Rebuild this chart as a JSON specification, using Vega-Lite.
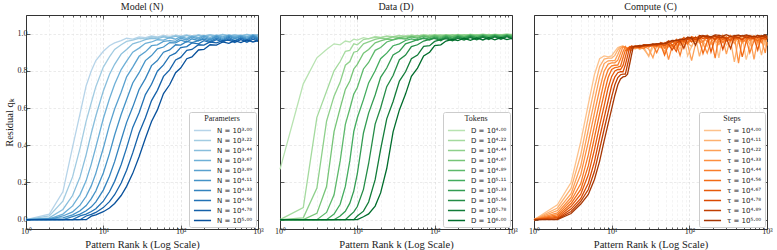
{
"$schema": "https://vega.github.io/schema/vega-lite/v6.json",
"padding": {"left": 4, "top": 1, "right": 0, "bottom": 0},
"background": "white",
"config": {
 "font": "Liberation Serif",
 "view": {"stroke": null},
 "title": {"font": "Liberation Serif", "fontSize": 10, "fontWeight": "normal", "color": "#222222", "offset": 3},
 "axis": {"domainColor": "#333333", "domainWidth": 1, "tickColor": "#333333", "tickWidth": 0.8, "gridDash": [2.5, 2], "gridWidth": 0.6, "gridColor": "#dddddd", "labelFont": "Liberation Serif", "labelFontSize": 8, "labelColor": "#222222", "titleFont": "Liberation Serif", "titleFontSize": 10.5, "titleFontWeight": "normal", "titleColor": "#222222"},
 "legend": {"orient": "bottom-right", "offset": 2, "padding": 3, "fillColor": "rgba(255,255,255,0.92)", "strokeColor": "#cccccc", "cornerRadius": 2, "titleFont": "Liberation Serif", "titleFontSize": 8, "titleFontWeight": "normal", "titleColor": "#222222", "titleAnchor": "middle", "titlePadding": 2, "labelFont": "DejaVu Sans", "labelFontSize": 7, "labelColor": "#222222", "labelOffset": 9, "symbolType": "M-1.9,0H1.9", "symbolSize": 81, "symbolStrokeWidth": 1.5, "symbolOffset": 5, "rowPadding": 1}
},
"datasets": {
"model": [
{"s":0,"k":1,"q":0},{"s":0,"k":2,"q":0.03},{"s":0,"k":3,"q":0.15},{"s":0,"k":4,"q":0.39},{"s":0,"k":5,"q":0.57},{"s":0,"k":6,"q":0.72},{"s":0,"k":7,"q":0.8},{"s":0,"k":8,"q":0.855},{"s":0,"k":10,"q":0.905},{"s":0,"k":12,"q":0.935},{"s":0,"k":14,"q":0.95},{"s":0,"k":17,"q":0.962},{"s":0,"k":20,"q":0.975},{"s":0,"k":24,"q":0.97},{"s":0,"k":29,"q":0.982},{"s":0,"k":35,"q":0.978},{"s":0,"k":42,"q":0.987},{"s":0,"k":50,"q":0.983},{"s":0,"k":60,"q":0.99},{"s":0,"k":72,"q":0.985},{"s":0,"k":86,"q":0.992},{"s":0,"k":100,"q":0.988},{"s":0,"k":120,"q":0.993},{"s":0,"k":140,"q":0.986},{"s":0,"k":170,"q":0.994},{"s":0,"k":200,"q":0.989},{"s":0,"k":240,"q":0.995},{"s":0,"k":290,"q":0.99},{"s":0,"k":350,"q":0.996},{"s":0,"k":420,"q":0.99},{"s":0,"k":500,"q":0.995},{"s":0,"k":600,"q":0.991},{"s":0,"k":720,"q":0.996},{"s":0,"k":860,"q":0.992},{"s":0,"k":1000,"q":0.995},
{"s":1,"k":1,"q":0},{"s":1,"k":2,"q":0.02},{"s":1,"k":3,"q":0.1},{"s":1,"k":4,"q":0.23},{"s":1,"k":5,"q":0.385},{"s":1,"k":6,"q":0.53},{"s":1,"k":7,"q":0.63},{"s":1,"k":8,"q":0.715},{"s":1,"k":10,"q":0.82},{"s":1,"k":12,"q":0.875},{"s":1,"k":14,"q":0.915},{"s":1,"k":17,"q":0.94},{"s":1,"k":20,"q":0.958},{"s":1,"k":24,"q":0.965},{"s":1,"k":29,"q":0.975},{"s":1,"k":35,"q":0.972},{"s":1,"k":42,"q":0.983},{"s":1,"k":50,"q":0.978},{"s":1,"k":60,"q":0.986},{"s":1,"k":72,"q":0.98},{"s":1,"k":86,"q":0.99},{"s":1,"k":100,"q":0.984},{"s":1,"k":120,"q":0.991},{"s":1,"k":140,"q":0.983},{"s":1,"k":170,"q":0.992},{"s":1,"k":200,"q":0.986},{"s":1,"k":240,"q":0.993},{"s":1,"k":290,"q":0.987},{"s":1,"k":350,"q":0.995},{"s":1,"k":420,"q":0.986},{"s":1,"k":500,"q":0.993},{"s":1,"k":600,"q":0.988},{"s":1,"k":720,"q":0.995},{"s":1,"k":860,"q":0.989},{"s":1,"k":1000,"q":0.994},
{"s":2,"k":1,"q":0},{"s":2,"k":2,"q":0.01},{"s":2,"k":3,"q":0.055},{"s":2,"k":4,"q":0.13},{"s":2,"k":5,"q":0.23},{"s":2,"k":6,"q":0.35},{"s":2,"k":7,"q":0.466},{"s":2,"k":8,"q":0.557},{"s":2,"k":10,"q":0.692},{"s":2,"k":12,"q":0.78},{"s":2,"k":14,"q":0.835},{"s":2,"k":17,"q":0.89},{"s":2,"k":20,"q":0.915},{"s":2,"k":24,"q":0.945},{"s":2,"k":29,"q":0.955},{"s":2,"k":35,"q":0.968},{"s":2,"k":42,"q":0.975},{"s":2,"k":50,"q":0.972},{"s":2,"k":60,"q":0.982},{"s":2,"k":72,"q":0.976},{"s":2,"k":86,"q":0.986},{"s":2,"k":100,"q":0.979},{"s":2,"k":120,"q":0.99},{"s":2,"k":140,"q":0.981},{"s":2,"k":170,"q":0.991},{"s":2,"k":200,"q":0.984},{"s":2,"k":240,"q":0.993},{"s":2,"k":290,"q":0.983},{"s":2,"k":350,"q":0.994},{"s":2,"k":420,"q":0.987},{"s":2,"k":500,"q":0.992},{"s":2,"k":600,"q":0.985},{"s":2,"k":720,"q":0.995},{"s":2,"k":860,"q":0.987},{"s":2,"k":1000,"q":0.993},
{"s":3,"k":1,"q":0},{"s":3,"k":2,"q":0.005},{"s":3,"k":3,"q":0.03},{"s":3,"k":4,"q":0.074},{"s":3,"k":5,"q":0.135},{"s":3,"k":6,"q":0.21},{"s":3,"k":7,"q":0.3},{"s":3,"k":8,"q":0.39},{"s":3,"k":10,"q":0.544},{"s":3,"k":12,"q":0.65},{"s":3,"k":14,"q":0.728},{"s":3,"k":17,"q":0.807},{"s":3,"k":20,"q":0.852},{"s":3,"k":24,"q":0.9},{"s":3,"k":29,"q":0.922},{"s":3,"k":35,"q":0.948},{"s":3,"k":42,"q":0.955},{"s":3,"k":50,"q":0.967},{"s":3,"k":60,"q":0.965},{"s":3,"k":72,"q":0.978},{"s":3,"k":86,"q":0.97},{"s":3,"k":100,"q":0.983},{"s":3,"k":120,"q":0.974},{"s":3,"k":140,"q":0.988},{"s":3,"k":170,"q":0.978},{"s":3,"k":200,"q":0.99},{"s":3,"k":240,"q":0.98},{"s":3,"k":290,"q":0.992},{"s":3,"k":350,"q":0.982},{"s":3,"k":420,"q":0.993},{"s":3,"k":500,"q":0.984},{"s":3,"k":600,"q":0.991},{"s":3,"k":720,"q":0.983},{"s":3,"k":860,"q":0.994},{"s":3,"k":1000,"q":0.986},
{"s":4,"k":1,"q":0},{"s":4,"k":2,"q":0},{"s":4,"k":3,"q":0.02},{"s":4,"k":4,"q":0.042},{"s":4,"k":5,"q":0.078},{"s":4,"k":6,"q":0.126},{"s":4,"k":7,"q":0.183},{"s":4,"k":8,"q":0.249},{"s":4,"k":10,"q":0.385},{"s":4,"k":12,"q":0.508},{"s":4,"k":14,"q":0.595},{"s":4,"k":17,"q":0.685},{"s":4,"k":20,"q":0.768},{"s":4,"k":24,"q":0.82},{"s":4,"k":29,"q":0.878},{"s":4,"k":35,"q":0.902},{"s":4,"k":42,"q":0.935},{"s":4,"k":50,"q":0.94},{"s":4,"k":60,"q":0.958},{"s":4,"k":72,"q":0.962},{"s":4,"k":86,"q":0.958},{"s":4,"k":100,"q":0.975},{"s":4,"k":120,"q":0.966},{"s":4,"k":140,"q":0.982},{"s":4,"k":170,"q":0.97},{"s":4,"k":200,"q":0.986},{"s":4,"k":240,"q":0.972},{"s":4,"k":290,"q":0.988},{"s":4,"k":350,"q":0.975},{"s":4,"k":420,"q":0.99},{"s":4,"k":500,"q":0.978},{"s":4,"k":600,"q":0.987},{"s":4,"k":720,"q":0.976},{"s":4,"k":860,"q":0.992},{"s":4,"k":1000,"q":0.98},
{"s":5,"k":1,"q":0},{"s":5,"k":3,"q":0.01},{"s":5,"k":4,"q":0.026},{"s":5,"k":5,"q":0.048},{"s":5,"k":6,"q":0.076},{"s":5,"k":7,"q":0.113},{"s":5,"k":8,"q":0.154},{"s":5,"k":10,"q":0.251},{"s":5,"k":12,"q":0.355},{"s":5,"k":14,"q":0.455},{"s":5,"k":17,"q":0.565},{"s":5,"k":20,"q":0.646},{"s":5,"k":24,"q":0.735},{"s":5,"k":29,"q":0.79},{"s":5,"k":35,"q":0.855},{"s":5,"k":42,"q":0.882},{"s":5,"k":50,"q":0.918},{"s":5,"k":60,"q":0.928},{"s":5,"k":72,"q":0.952},{"s":5,"k":86,"q":0.95},{"s":5,"k":100,"q":0.965},{"s":5,"k":120,"q":0.955},{"s":5,"k":140,"q":0.972},{"s":5,"k":170,"q":0.962},{"s":5,"k":200,"q":0.978},{"s":5,"k":240,"q":0.966},{"s":5,"k":290,"q":0.983},{"s":5,"k":350,"q":0.968},{"s":5,"k":420,"q":0.986},{"s":5,"k":500,"q":0.972},{"s":5,"k":600,"q":0.984},{"s":5,"k":720,"q":0.97},{"s":5,"k":860,"q":0.99},{"s":5,"k":1000,"q":0.976},
{"s":6,"k":1,"q":0},{"s":6,"k":3,"q":0},{"s":6,"k":4,"q":0.017},{"s":6,"k":5,"q":0.03},{"s":6,"k":6,"q":0.048},{"s":6,"k":7,"q":0.069},{"s":6,"k":8,"q":0.096},{"s":6,"k":10,"q":0.159},{"s":6,"k":12,"q":0.233},{"s":6,"k":14,"q":0.312},{"s":6,"k":17,"q":0.428},{"s":6,"k":20,"q":0.523},{"s":6,"k":24,"q":0.605},{"s":6,"k":29,"q":0.7},{"s":6,"k":35,"q":0.758},{"s":6,"k":42,"q":0.828},{"s":6,"k":50,"q":0.855},{"s":6,"k":60,"q":0.9},{"s":6,"k":72,"q":0.912},{"s":6,"k":86,"q":0.94},{"s":6,"k":100,"q":0.938},{"s":6,"k":120,"q":0.958},{"s":6,"k":140,"q":0.952},{"s":6,"k":170,"q":0.962},{"s":6,"k":200,"q":0.97},{"s":6,"k":240,"q":0.958},{"s":6,"k":290,"q":0.976},{"s":6,"k":350,"q":0.962},{"s":6,"k":420,"q":0.98},{"s":6,"k":500,"q":0.963},{"s":6,"k":600,"q":0.978},{"s":6,"k":720,"q":0.965},{"s":6,"k":860,"q":0.985},{"s":6,"k":1000,"q":0.97},
{"s":7,"k":1,"q":0},{"s":7,"k":4,"q":0},{"s":7,"k":5,"q":0.02},{"s":7,"k":6,"q":0.03},{"s":7,"k":7,"q":0.044},{"s":7,"k":8,"q":0.059},{"s":7,"k":10,"q":0.1},{"s":7,"k":12,"q":0.15},{"s":7,"k":14,"q":0.206},{"s":7,"k":17,"q":0.295},{"s":7,"k":20,"q":0.386},{"s":7,"k":24,"q":0.496},{"s":7,"k":29,"q":0.575},{"s":7,"k":35,"q":0.672},{"s":7,"k":42,"q":0.728},{"s":7,"k":50,"q":0.798},{"s":7,"k":60,"q":0.832},{"s":7,"k":72,"q":0.88},{"s":7,"k":86,"q":0.895},{"s":7,"k":100,"q":0.925},{"s":7,"k":120,"q":0.93},{"s":7,"k":140,"q":0.95},{"s":7,"k":170,"q":0.945},{"s":7,"k":200,"q":0.962},{"s":7,"k":240,"q":0.952},{"s":7,"k":290,"q":0.968},{"s":7,"k":350,"q":0.955},{"s":7,"k":420,"q":0.972},{"s":7,"k":500,"q":0.958},{"s":7,"k":600,"q":0.975},{"s":7,"k":720,"q":0.96},{"s":7,"k":860,"q":0.978},{"s":7,"k":1000,"q":0.965},
{"s":8,"k":1,"q":0},{"s":8,"k":5,"q":0},{"s":8,"k":6,"q":0.02},{"s":8,"k":7,"q":0.029},{"s":8,"k":8,"q":0.039},{"s":8,"k":10,"q":0.065},{"s":8,"k":12,"q":0.097},{"s":8,"k":14,"q":0.134},{"s":8,"k":17,"q":0.197},{"s":8,"k":20,"q":0.266},{"s":8,"k":24,"q":0.359},{"s":8,"k":29,"q":0.466},{"s":8,"k":35,"q":0.548},{"s":8,"k":42,"q":0.64},{"s":8,"k":50,"q":0.695},{"s":8,"k":60,"q":0.77},{"s":8,"k":72,"q":0.805},{"s":8,"k":86,"q":0.858},{"s":8,"k":100,"q":0.872},{"s":8,"k":120,"q":0.91},{"s":8,"k":140,"q":0.915},{"s":8,"k":170,"q":0.94},{"s":8,"k":200,"q":0.938},{"s":8,"k":240,"q":0.955},{"s":8,"k":290,"q":0.95},{"s":8,"k":350,"q":0.962},{"s":8,"k":420,"q":0.965},{"s":8,"k":500,"q":0.952},{"s":8,"k":600,"q":0.968},{"s":8,"k":720,"q":0.954},{"s":8,"k":860,"q":0.97},{"s":8,"k":1000,"q":0.958},
{"s":9,"k":1,"q":0},{"s":9,"k":6,"q":0},{"s":9,"k":7,"q":0.019},{"s":9,"k":8,"q":0.026},{"s":9,"k":10,"q":0.043},{"s":9,"k":12,"q":0.063},{"s":9,"k":14,"q":0.087},{"s":9,"k":17,"q":0.13},{"s":9,"k":20,"q":0.179},{"s":9,"k":24,"q":0.249},{"s":9,"k":29,"q":0.338},{"s":9,"k":35,"q":0.438},{"s":9,"k":42,"q":0.528},{"s":9,"k":50,"q":0.59},{"s":9,"k":60,"q":0.678},{"s":9,"k":72,"q":0.725},{"s":9,"k":86,"q":0.79},{"s":9,"k":100,"q":0.815},{"s":9,"k":120,"q":0.865},{"s":9,"k":140,"q":0.875},{"s":9,"k":170,"q":0.912},{"s":9,"k":200,"q":0.915},{"s":9,"k":240,"q":0.94},{"s":9,"k":290,"q":0.938},{"s":9,"k":350,"q":0.955},{"s":9,"k":420,"q":0.948},{"s":9,"k":500,"q":0.962},{"s":9,"k":600,"q":0.952},{"s":9,"k":720,"q":0.966},{"s":9,"k":860,"q":0.955},{"s":9,"k":1000,"q":0.962}
],
"data": [
{"s":0,"k":1,"q":0.27},{"s":0,"k":2,"q":0.73},{"s":0,"k":3,"q":0.87},{"s":0,"k":4,"q":0.915},{"s":0,"k":5,"q":0.945},{"s":0,"k":6,"q":0.94},{"s":0,"k":7,"q":0.96},{"s":0,"k":8,"q":0.955},{"s":0,"k":9,"q":0.97},{"s":0,"k":10,"q":0.965},{"s":0,"k":12,"q":0.978},{"s":0,"k":14,"q":0.972},{"s":0,"k":17,"q":0.985},{"s":0,"k":20,"q":0.98},{"s":0,"k":24,"q":0.988},{"s":0,"k":29,"q":0.984},{"s":0,"k":35,"q":0.99},{"s":0,"k":42,"q":0.986},{"s":0,"k":50,"q":0.992},{"s":0,"k":60,"q":0.988},{"s":0,"k":72,"q":0.994},{"s":0,"k":86,"q":0.99},{"s":0,"k":100,"q":0.995},{"s":0,"k":120,"q":0.99},{"s":0,"k":140,"q":0.995},{"s":0,"k":170,"q":0.991},{"s":0,"k":200,"q":0.996},{"s":0,"k":240,"q":0.992},{"s":0,"k":290,"q":0.996},{"s":0,"k":350,"q":0.993},{"s":0,"k":420,"q":0.997},{"s":0,"k":500,"q":0.993},{"s":0,"k":600,"q":0.996},{"s":0,"k":720,"q":0.994},{"s":0,"k":860,"q":0.997},{"s":0,"k":1000,"q":0.995},
{"s":1,"k":1,"q":0},{"s":1,"k":2,"q":0.065},{"s":1,"k":3,"q":0.55},{"s":1,"k":4,"q":0.69},{"s":1,"k":5,"q":0.8},{"s":1,"k":6,"q":0.85},{"s":1,"k":7,"q":0.905},{"s":1,"k":8,"q":0.91},{"s":1,"k":9,"q":0.945},{"s":1,"k":10,"q":0.94},{"s":1,"k":12,"q":0.968},{"s":1,"k":14,"q":0.973},{"s":1,"k":17,"q":0.98},{"s":1,"k":20,"q":0.978},{"s":1,"k":24,"q":0.985},{"s":1,"k":29,"q":0.982},{"s":1,"k":35,"q":0.989},{"s":1,"k":42,"q":0.984},{"s":1,"k":50,"q":0.991},{"s":1,"k":60,"q":0.986},{"s":1,"k":72,"q":0.993},{"s":1,"k":86,"q":0.988},{"s":1,"k":100,"q":0.994},{"s":1,"k":120,"q":0.989},{"s":1,"k":140,"q":0.995},{"s":1,"k":170,"q":0.99},{"s":1,"k":200,"q":0.995},{"s":1,"k":240,"q":0.99},{"s":1,"k":290,"q":0.996},{"s":1,"k":350,"q":0.991},{"s":1,"k":420,"q":0.996},{"s":1,"k":500,"q":0.992},{"s":1,"k":600,"q":0.996},{"s":1,"k":720,"q":0.993},{"s":1,"k":860,"q":0.997},{"s":1,"k":1000,"q":0.994},
{"s":2,"k":1,"q":0},{"s":2,"k":2,"q":0.01},{"s":2,"k":3,"q":0.17},{"s":2,"k":4,"q":0.53},{"s":2,"k":5,"q":0.664},{"s":2,"k":6,"q":0.74},{"s":2,"k":7,"q":0.83},{"s":2,"k":8,"q":0.85},{"s":2,"k":9,"q":0.9},{"s":2,"k":10,"q":0.905},{"s":2,"k":12,"q":0.945},{"s":2,"k":14,"q":0.956},{"s":2,"k":17,"q":0.969},{"s":2,"k":20,"q":0.976},{"s":2,"k":24,"q":0.972},{"s":2,"k":29,"q":0.983},{"s":2,"k":35,"q":0.978},{"s":2,"k":42,"q":0.986},{"s":2,"k":50,"q":0.981},{"s":2,"k":60,"q":0.99},{"s":2,"k":72,"q":0.984},{"s":2,"k":86,"q":0.992},{"s":2,"k":100,"q":0.986},{"s":2,"k":120,"q":0.993},{"s":2,"k":140,"q":0.987},{"s":2,"k":170,"q":0.994},{"s":2,"k":200,"q":0.988},{"s":2,"k":240,"q":0.995},{"s":2,"k":290,"q":0.989},{"s":2,"k":350,"q":0.995},{"s":2,"k":420,"q":0.99},{"s":2,"k":500,"q":0.996},{"s":2,"k":600,"q":0.991},{"s":2,"k":720,"q":0.995},{"s":2,"k":860,"q":0.992},{"s":2,"k":1000,"q":0.996},
{"s":3,"k":1,"q":0},{"s":3,"k":2,"q":0},{"s":3,"k":3,"q":0.034},{"s":3,"k":4,"q":0.178},{"s":3,"k":5,"q":0.473},{"s":3,"k":6,"q":0.6},{"s":3,"k":7,"q":0.7},{"s":3,"k":8,"q":0.745},{"s":3,"k":9,"q":0.81},{"s":3,"k":10,"q":0.835},{"s":3,"k":12,"q":0.895},{"s":3,"k":14,"q":0.915},{"s":3,"k":17,"q":0.95},{"s":3,"k":20,"q":0.961},{"s":3,"k":24,"q":0.971},{"s":3,"k":29,"q":0.968},{"s":3,"k":35,"q":0.98},{"s":3,"k":42,"q":0.975},{"s":3,"k":50,"q":0.986},{"s":3,"k":60,"q":0.98},{"s":3,"k":72,"q":0.99},{"s":3,"k":86,"q":0.983},{"s":3,"k":100,"q":0.991},{"s":3,"k":120,"q":0.985},{"s":3,"k":140,"q":0.992},{"s":3,"k":170,"q":0.986},{"s":3,"k":200,"q":0.993},{"s":3,"k":240,"q":0.987},{"s":3,"k":290,"q":0.994},{"s":3,"k":350,"q":0.988},{"s":3,"k":420,"q":0.994},{"s":3,"k":500,"q":0.989},{"s":3,"k":600,"q":0.995},{"s":3,"k":720,"q":0.99},{"s":3,"k":860,"q":0.995},{"s":3,"k":1000,"q":0.991},
{"s":4,"k":1,"q":0},{"s":4,"k":3,"q":0},{"s":4,"k":4,"q":0.039},{"s":4,"k":5,"q":0.134},{"s":4,"k":6,"q":0.316},{"s":4,"k":7,"q":0.512},{"s":4,"k":8,"q":0.596},{"s":4,"k":9,"q":0.675},{"s":4,"k":10,"q":0.71},{"s":4,"k":12,"q":0.81},{"s":4,"k":14,"q":0.845},{"s":4,"k":17,"q":0.91},{"s":4,"k":20,"q":0.925},{"s":4,"k":24,"q":0.955},{"s":4,"k":29,"q":0.966},{"s":4,"k":35,"q":0.975},{"s":4,"k":42,"q":0.97},{"s":4,"k":50,"q":0.982},{"s":4,"k":60,"q":0.975},{"s":4,"k":72,"q":0.986},{"s":4,"k":86,"q":0.978},{"s":4,"k":100,"q":0.988},{"s":4,"k":120,"q":0.98},{"s":4,"k":140,"q":0.99},{"s":4,"k":170,"q":0.982},{"s":4,"k":200,"q":0.991},{"s":4,"k":240,"q":0.983},{"s":4,"k":290,"q":0.992},{"s":4,"k":350,"q":0.985},{"s":4,"k":420,"q":0.993},{"s":4,"k":500,"q":0.986},{"s":4,"k":600,"q":0.993},{"s":4,"k":720,"q":0.987},{"s":4,"k":860,"q":0.994},{"s":4,"k":1000,"q":0.988},
{"s":5,"k":1,"q":0},{"s":5,"k":4,"q":0},{"s":5,"k":5,"q":0.03},{"s":5,"k":6,"q":0.083},{"s":5,"k":7,"q":0.179},{"s":5,"k":8,"q":0.317},{"s":5,"k":9,"q":0.474},{"s":5,"k":10,"q":0.548},{"s":5,"k":12,"q":0.645},{"s":5,"k":14,"q":0.735},{"s":5,"k":17,"q":0.8},{"s":5,"k":20,"q":0.865},{"s":5,"k":24,"q":0.895},{"s":5,"k":29,"q":0.935},{"s":5,"k":35,"q":0.945},{"s":5,"k":42,"q":0.963},{"s":5,"k":50,"q":0.972},{"s":5,"k":60,"q":0.965},{"s":5,"k":72,"q":0.978},{"s":5,"k":86,"q":0.97},{"s":5,"k":100,"q":0.982},{"s":5,"k":120,"q":0.974},{"s":5,"k":140,"q":0.986},{"s":5,"k":170,"q":0.976},{"s":5,"k":200,"q":0.988},{"s":5,"k":240,"q":0.978},{"s":5,"k":290,"q":0.99},{"s":5,"k":350,"q":0.98},{"s":5,"k":420,"q":0.99},{"s":5,"k":500,"q":0.981},{"s":5,"k":600,"q":0.991},{"s":5,"k":720,"q":0.983},{"s":5,"k":860,"q":0.992},{"s":5,"k":1000,"q":0.984},
{"s":6,"k":1,"q":0},{"s":6,"k":5,"q":0},{"s":6,"k":6,"q":0.02},{"s":6,"k":7,"q":0.045},{"s":6,"k":8,"q":0.089},{"s":6,"k":9,"q":0.155},{"s":6,"k":10,"q":0.247},{"s":6,"k":12,"q":0.466},{"s":6,"k":14,"q":0.573},{"s":6,"k":17,"q":0.67},{"s":6,"k":20,"q":0.765},{"s":6,"k":24,"q":0.815},{"s":6,"k":29,"q":0.885},{"s":6,"k":35,"q":0.905},{"s":6,"k":42,"q":0.945},{"s":6,"k":50,"q":0.955},{"s":6,"k":60,"q":0.967},{"s":6,"k":72,"q":0.974},{"s":6,"k":86,"q":0.965},{"s":6,"k":100,"q":0.978},{"s":6,"k":120,"q":0.968},{"s":6,"k":140,"q":0.982},{"s":6,"k":170,"q":0.972},{"s":6,"k":200,"q":0.985},{"s":6,"k":240,"q":0.974},{"s":6,"k":290,"q":0.987},{"s":6,"k":350,"q":0.976},{"s":6,"k":420,"q":0.988},{"s":6,"k":500,"q":0.977},{"s":6,"k":600,"q":0.989},{"s":6,"k":720,"q":0.978},{"s":6,"k":860,"q":0.99},{"s":6,"k":1000,"q":0.98},
{"s":7,"k":1,"q":0},{"s":7,"k":7,"q":0},{"s":7,"k":8,"q":0.023},{"s":7,"k":9,"q":0.042},{"s":7,"k":10,"q":0.071},{"s":7,"k":12,"q":0.163},{"s":7,"k":14,"q":0.302},{"s":7,"k":17,"q":0.514},{"s":7,"k":20,"q":0.6},{"s":7,"k":24,"q":0.715},{"s":7,"k":29,"q":0.775},{"s":7,"k":35,"q":0.86},{"s":7,"k":42,"q":0.885},{"s":7,"k":50,"q":0.93},{"s":7,"k":60,"q":0.94},{"s":7,"k":72,"q":0.96},{"s":7,"k":86,"q":0.969},{"s":7,"k":100,"q":0.974},{"s":7,"k":120,"q":0.962},{"s":7,"k":140,"q":0.978},{"s":7,"k":170,"q":0.966},{"s":7,"k":200,"q":0.982},{"s":7,"k":240,"q":0.968},{"s":7,"k":290,"q":0.984},{"s":7,"k":350,"q":0.97},{"s":7,"k":420,"q":0.986},{"s":7,"k":500,"q":0.972},{"s":7,"k":600,"q":0.986},{"s":7,"k":720,"q":0.974},{"s":7,"k":860,"q":0.988},{"s":7,"k":1000,"q":0.975},
{"s":8,"k":1,"q":0},{"s":8,"k":9,"q":0},{"s":8,"k":10,"q":0.02},{"s":8,"k":12,"q":0.046},{"s":8,"k":14,"q":0.095},{"s":8,"k":17,"q":0.215},{"s":8,"k":20,"q":0.378},{"s":8,"k":24,"q":0.542},{"s":8,"k":29,"q":0.635},{"s":8,"k":35,"q":0.745},{"s":8,"k":42,"q":0.795},{"s":8,"k":50,"q":0.865},{"s":8,"k":60,"q":0.885},{"s":8,"k":72,"q":0.932},{"s":8,"k":86,"q":0.935},{"s":8,"k":100,"q":0.958},{"s":8,"k":120,"q":0.968},{"s":8,"k":140,"q":0.973},{"s":8,"k":170,"q":0.962},{"s":8,"k":200,"q":0.976},{"s":8,"k":240,"q":0.965},{"s":8,"k":290,"q":0.979},{"s":8,"k":350,"q":0.967},{"s":8,"k":420,"q":0.981},{"s":8,"k":500,"q":0.968},{"s":8,"k":600,"q":0.982},{"s":8,"k":720,"q":0.97},{"s":8,"k":860,"q":0.984},{"s":8,"k":1000,"q":0.972},
{"s":9,"k":1,"q":0},{"s":9,"k":10,"q":0},{"s":9,"k":12,"q":0.016},{"s":9,"k":14,"q":0.031},{"s":9,"k":17,"q":0.073},{"s":9,"k":20,"q":0.144},{"s":9,"k":24,"q":0.275},{"s":9,"k":29,"q":0.472},{"s":9,"k":35,"q":0.59},{"s":9,"k":42,"q":0.675},{"s":9,"k":50,"q":0.77},{"s":9,"k":60,"q":0.815},{"s":9,"k":72,"q":0.88},{"s":9,"k":86,"q":0.9},{"s":9,"k":100,"q":0.935},{"s":9,"k":120,"q":0.94},{"s":9,"k":140,"q":0.96},{"s":9,"k":170,"q":0.969},{"s":9,"k":200,"q":0.962},{"s":9,"k":240,"q":0.975},{"s":9,"k":290,"q":0.964},{"s":9,"k":350,"q":0.977},{"s":9,"k":420,"q":0.966},{"s":9,"k":500,"q":0.978},{"s":9,"k":600,"q":0.967},{"s":9,"k":720,"q":0.979},{"s":9,"k":860,"q":0.968},{"s":9,"k":1000,"q":0.975}
],
"compute": [
{"s":0,"k":1,"q":0},{"s":0,"k":2,"q":0.08},{"s":0,"k":3,"q":0.2},{"s":0,"k":4,"q":0.42},{"s":0,"k":5,"q":0.62},{"s":0,"k":6,"q":0.78},{"s":0,"k":7,"q":0.865},{"s":0,"k":8,"q":0.88},{"s":0,"k":9,"q":0.875},{"s":0,"k":10,"q":0.88},{"s":0,"k":11,"q":0.905},{"s":0,"k":12,"q":0.925},{"s":0,"k":13,"q":0.93},{"s":0,"k":14,"q":0.932},{"s":0,"k":16,"q":0.92},{"s":0,"k":18,"q":0.918},{"s":0,"k":20,"q":0.932},{"s":0,"k":23,"q":0.915},{"s":0,"k":26,"q":0.927},{"s":0,"k":30,"q":0.877},{"s":0,"k":34,"q":0.925},{"s":0,"k":38,"q":0.94},{"s":0,"k":43,"q":0.924},{"s":0,"k":48,"q":0.922},{"s":0,"k":54,"q":0.953},{"s":0,"k":60,"q":0.919},{"s":0,"k":68,"q":0.95},{"s":0,"k":76,"q":0.915},{"s":0,"k":85,"q":0.978},{"s":0,"k":95,"q":0.88},{"s":0,"k":107,"q":0.931},{"s":0,"k":120,"q":0.973},{"s":0,"k":135,"q":0.948},{"s":0,"k":150,"q":0.957},{"s":0,"k":170,"q":0.931},{"s":0,"k":190,"q":0.983},{"s":0,"k":215,"q":0.97},{"s":0,"k":240,"q":0.87},{"s":0,"k":270,"q":0.99},{"s":0,"k":300,"q":0.937},{"s":0,"k":340,"q":0.964},{"s":0,"k":380,"q":0.977},{"s":0,"k":430,"q":0.95},{"s":0,"k":480,"q":0.983},{"s":0,"k":540,"q":0.86},{"s":0,"k":600,"q":0.931},{"s":0,"k":680,"q":0.97},{"s":0,"k":760,"q":0.944},{"s":0,"k":850,"q":0.977},{"s":0,"k":950,"q":0.937},{"s":0,"k":1000,"q":0.99},
{"s":1,"k":1,"q":0},{"s":1,"k":2,"q":0.063},{"s":1,"k":3,"q":0.168},{"s":1,"k":4,"q":0.349},{"s":1,"k":5,"q":0.551},{"s":1,"k":6,"q":0.707},{"s":1,"k":7,"q":0.823},{"s":1,"k":8,"q":0.863},{"s":1,"k":9,"q":0.868},{"s":1,"k":10,"q":0.868},{"s":1,"k":11,"q":0.883},{"s":1,"k":12,"q":0.912},{"s":1,"k":13,"q":0.93},{"s":1,"k":14,"q":0.933},{"s":1,"k":16,"q":0.918},{"s":1,"k":18,"q":0.932},{"s":1,"k":20,"q":0.917},{"s":1,"k":23,"q":0.931},{"s":1,"k":26,"q":0.916},{"s":1,"k":30,"q":0.882},{"s":1,"k":34,"q":0.942},{"s":1,"k":38,"q":0.926},{"s":1,"k":43,"q":0.941},{"s":1,"k":48,"q":0.901},{"s":1,"k":54,"q":0.96},{"s":1,"k":60,"q":0.941},{"s":1,"k":68,"q":0.922},{"s":1,"k":76,"q":0.962},{"s":1,"k":85,"q":0.942},{"s":1,"k":95,"q":0.951},{"s":1,"k":107,"q":0.93},{"s":1,"k":120,"q":0.98},{"s":1,"k":135,"q":0.878},{"s":1,"k":150,"q":0.948},{"s":1,"k":170,"q":0.99},{"s":1,"k":190,"q":0.942},{"s":1,"k":215,"q":0.966},{"s":1,"k":240,"q":0.978},{"s":1,"k":270,"q":0.954},{"s":1,"k":300,"q":0.984},{"s":1,"k":340,"q":0.96},{"s":1,"k":380,"q":0.848},{"s":1,"k":430,"q":0.972},{"s":1,"k":480,"q":0.948},{"s":1,"k":540,"q":0.978},{"s":1,"k":600,"q":0.942},{"s":1,"k":680,"q":0.99},{"s":1,"k":760,"q":0.972},{"s":1,"k":850,"q":0.884},{"s":1,"k":950,"q":0.984},{"s":1,"k":1000,"q":0.936},
{"s":2,"k":1,"q":0},{"s":2,"k":2,"q":0.049},{"s":2,"k":3,"q":0.14},{"s":2,"k":4,"q":0.29},{"s":2,"k":5,"q":0.483},{"s":2,"k":6,"q":0.639},{"s":2,"k":7,"q":0.769},{"s":2,"k":8,"q":0.839},{"s":2,"k":9,"q":0.854},{"s":2,"k":10,"q":0.855},{"s":2,"k":11,"q":0.855},{"s":2,"k":12,"q":0.888},{"s":2,"k":13,"q":0.921},{"s":2,"k":14,"q":0.93},{"s":2,"k":16,"q":0.908},{"s":2,"k":18,"q":0.919},{"s":2,"k":20,"q":0.932},{"s":2,"k":23,"q":0.918},{"s":2,"k":26,"q":0.932},{"s":2,"k":30,"q":0.918},{"s":2,"k":34,"q":0.87},{"s":2,"k":38,"q":0.936},{"s":2,"k":43,"q":0.928},{"s":2,"k":48,"q":0.944},{"s":2,"k":54,"q":0.928},{"s":2,"k":60,"q":0.938},{"s":2,"k":68,"q":0.921},{"s":2,"k":76,"q":0.969},{"s":2,"k":85,"q":0.962},{"s":2,"k":95,"q":0.943},{"s":2,"k":107,"q":0.855},{"s":2,"k":120,"q":0.943},{"s":2,"k":135,"q":0.966},{"s":2,"k":150,"q":0.979},{"s":2,"k":170,"q":0.958},{"s":2,"k":190,"q":0.985},{"s":2,"k":215,"q":0.963},{"s":2,"k":240,"q":0.941},{"s":2,"k":270,"q":0.974},{"s":2,"k":300,"q":0.89},{"s":2,"k":340,"q":0.979},{"s":2,"k":380,"q":0.947},{"s":2,"k":430,"q":0.99},{"s":2,"k":480,"q":0.974},{"s":2,"k":540,"q":0.952},{"s":2,"k":600,"q":0.985},{"s":2,"k":680,"q":0.862},{"s":2,"k":760,"q":0.968},{"s":2,"k":850,"q":0.99},{"s":2,"k":950,"q":0.958},{"s":2,"k":1000,"q":0.979},
{"s":3,"k":1,"q":0},{"s":3,"k":2,"q":0.037},{"s":3,"k":3,"q":0.119},{"s":3,"k":4,"q":0.242},{"s":3,"k":5,"q":0.417},{"s":3,"k":6,"q":0.573},{"s":3,"k":7,"q":0.701},{"s":3,"k":8,"q":0.798},{"s":3,"k":9,"q":0.836},{"s":3,"k":10,"q":0.843},{"s":3,"k":11,"q":0.843},{"s":3,"k":12,"q":0.857},{"s":3,"k":13,"q":0.895},{"s":3,"k":14,"q":0.93},{"s":3,"k":16,"q":0.923},{"s":3,"k":18,"q":0.91},{"s":3,"k":20,"q":0.935},{"s":3,"k":23,"q":0.927},{"s":3,"k":26,"q":0.921},{"s":3,"k":30,"q":0.937},{"s":3,"k":34,"q":0.931},{"s":3,"k":38,"q":0.935},{"s":3,"k":43,"q":0.928},{"s":3,"k":48,"q":0.95},{"s":3,"k":54,"q":0.86},{"s":3,"k":60,"q":0.931},{"s":3,"k":68,"q":0.97},{"s":3,"k":76,"q":0.936},{"s":3,"k":85,"q":0.959},{"s":3,"k":95,"q":0.971},{"s":3,"k":107,"q":0.955},{"s":3,"k":120,"q":0.981},{"s":3,"k":135,"q":0.964},{"s":3,"k":150,"q":0.947},{"s":3,"k":170,"q":0.895},{"s":3,"k":190,"q":0.956},{"s":3,"k":215,"q":0.98},{"s":3,"k":240,"q":0.952},{"s":3,"k":270,"q":0.99},{"s":3,"k":300,"q":0.976},{"s":3,"k":340,"q":0.956},{"s":3,"k":380,"q":0.985},{"s":3,"k":430,"q":0.841},{"s":3,"k":480,"q":0.971},{"s":3,"k":540,"q":0.99},{"s":3,"k":600,"q":0.961},{"s":3,"k":680,"q":0.98},{"s":3,"k":760,"q":0.952},{"s":3,"k":850,"q":0.966},{"s":3,"k":950,"q":0.896},{"s":3,"k":1000,"q":0.956},
{"s":4,"k":1,"q":0},{"s":4,"k":2,"q":0.027},{"s":4,"k":3,"q":0.102},{"s":4,"k":4,"q":0.194},{"s":4,"k":5,"q":0.348},{"s":4,"k":6,"q":0.506},{"s":4,"k":7,"q":0.633},{"s":4,"k":8,"q":0.744},{"s":4,"k":9,"q":0.806},{"s":4,"k":10,"q":0.827},{"s":4,"k":11,"q":0.83},{"s":4,"k":12,"q":0.831},{"s":4,"k":13,"q":0.863},{"s":4,"k":14,"q":0.903},{"s":4,"k":15,"q":0.93},{"s":4,"k":16,"q":0.913},{"s":4,"k":18,"q":0.928},{"s":4,"k":20,"q":0.922},{"s":4,"k":23,"q":0.926},{"s":4,"k":26,"q":0.921},{"s":4,"k":30,"q":0.94},{"s":4,"k":34,"q":0.939},{"s":4,"k":38,"q":0.898},{"s":4,"k":43,"q":0.95},{"s":4,"k":48,"q":0.921},{"s":4,"k":54,"q":0.943},{"s":4,"k":60,"q":0.957},{"s":4,"k":68,"q":0.945},{"s":4,"k":76,"q":0.883},{"s":4,"k":85,"q":0.957},{"s":4,"k":95,"q":0.943},{"s":4,"k":107,"q":0.971},{"s":4,"k":120,"q":0.957},{"s":4,"k":135,"q":0.98},{"s":4,"k":150,"q":0.956},{"s":4,"k":170,"q":0.99},{"s":4,"k":190,"q":0.977},{"s":4,"k":215,"q":0.868},{"s":4,"k":240,"q":0.986},{"s":4,"k":270,"q":0.952},{"s":4,"k":300,"q":0.973},{"s":4,"k":340,"q":0.99},{"s":4,"k":380,"q":0.965},{"s":4,"k":430,"q":0.982},{"s":4,"k":480,"q":0.956},{"s":4,"k":540,"q":0.969},{"s":4,"k":600,"q":0.897},{"s":4,"k":680,"q":0.961},{"s":4,"k":760,"q":0.977},{"s":4,"k":850,"q":0.952},{"s":4,"k":950,"q":0.99},{"s":4,"k":1000,"q":0.973},
{"s":5,"k":1,"q":0},{"s":5,"k":2,"q":0.019},{"s":5,"k":3,"q":0.087},{"s":5,"k":4,"q":0.163},{"s":5,"k":5,"q":0.289},{"s":5,"k":6,"q":0.441},{"s":5,"k":7,"q":0.57},{"s":5,"k":8,"q":0.677},{"s":5,"k":9,"q":0.764},{"s":5,"k":10,"q":0.807},{"s":5,"k":11,"q":0.817},{"s":5,"k":12,"q":0.82},{"s":5,"k":13,"q":0.825},{"s":5,"k":14,"q":0.87},{"s":5,"k":15,"q":0.91},{"s":5,"k":16,"q":0.914},{"s":5,"k":18,"q":0.93},{"s":5,"k":20,"q":0.93},{"s":5,"k":23,"q":0.924},{"s":5,"k":26,"q":0.94},{"s":5,"k":30,"q":0.928},{"s":5,"k":34,"q":0.938},{"s":5,"k":38,"q":0.943},{"s":5,"k":43,"q":0.939},{"s":5,"k":48,"q":0.884},{"s":5,"k":54,"q":0.942},{"s":5,"k":60,"q":0.933},{"s":5,"k":68,"q":0.959},{"s":5,"k":76,"q":0.949},{"s":5,"k":85,"q":0.971},{"s":5,"k":95,"q":0.952},{"s":5,"k":107,"q":0.984},{"s":5,"k":120,"q":0.975},{"s":5,"k":135,"q":0.963},{"s":5,"k":150,"q":0.893},{"s":5,"k":170,"q":0.958},{"s":5,"k":190,"q":0.976},{"s":5,"k":215,"q":0.99},{"s":5,"k":240,"q":0.968},{"s":5,"k":270,"q":0.983},{"s":5,"k":300,"q":0.961},{"s":5,"k":340,"q":0.972},{"s":5,"k":380,"q":0.986},{"s":5,"k":430,"q":0.965},{"s":5,"k":480,"q":0.875},{"s":5,"k":540,"q":0.958},{"s":5,"k":600,"q":0.99},{"s":5,"k":680,"q":0.976},{"s":5,"k":760,"q":0.961},{"s":5,"k":850,"q":0.983},{"s":5,"k":950,"q":0.968},{"s":5,"k":1000,"q":0.972},
{"s":6,"k":1,"q":0},{"s":6,"k":2,"q":0.012},{"s":6,"k":3,"q":0.072},{"s":6,"k":4,"q":0.137},{"s":6,"k":5,"q":0.241},{"s":6,"k":6,"q":0.377},{"s":6,"k":7,"q":0.505},{"s":6,"k":8,"q":0.612},{"s":6,"k":9,"q":0.708},{"s":6,"k":10,"q":0.77},{"s":6,"k":11,"q":0.799},{"s":6,"k":12,"q":0.807},{"s":6,"k":13,"q":0.807},{"s":6,"k":14,"q":0.829},{"s":6,"k":15,"q":0.875},{"s":6,"k":16,"q":0.918},{"s":6,"k":17,"q":0.93},{"s":6,"k":18,"q":0.92},{"s":6,"k":20,"q":0.929},{"s":6,"k":23,"q":0.934},{"s":6,"k":26,"q":0.931},{"s":6,"k":30,"q":0.94},{"s":6,"k":34,"q":0.937},{"s":6,"k":38,"q":0.933},{"s":6,"k":43,"q":0.945},{"s":6,"k":48,"q":0.934},{"s":6,"k":54,"q":0.954},{"s":6,"k":60,"q":0.941},{"s":6,"k":68,"q":0.904},{"s":6,"k":76,"q":0.965},{"s":6,"k":85,"q":0.957},{"s":6,"k":95,"q":0.978},{"s":6,"k":107,"q":0.957},{"s":6,"k":120,"q":0.974},{"s":6,"k":135,"q":0.988},{"s":6,"k":150,"q":0.972},{"s":6,"k":170,"q":0.984},{"s":6,"k":190,"q":0.901},{"s":6,"k":215,"q":0.975},{"s":6,"k":240,"q":0.987},{"s":6,"k":270,"q":0.969},{"s":6,"k":300,"q":0.981},{"s":6,"k":340,"q":0.963},{"s":6,"k":380,"q":0.99},{"s":6,"k":430,"q":0.978},{"s":6,"k":480,"q":0.966},{"s":6,"k":540,"q":0.984},{"s":6,"k":600,"q":0.972},{"s":6,"k":680,"q":0.975},{"s":6,"k":760,"q":0.911},{"s":6,"k":850,"q":0.987},{"s":6,"k":950,"q":0.981},{"s":6,"k":1000,"q":0.969},
{"s":7,"k":1,"q":0},{"s":7,"k":2,"q":0.006},{"s":7,"k":3,"q":0.057},{"s":7,"k":4,"q":0.114},{"s":7,"k":5,"q":0.196},{"s":7,"k":6,"q":0.312},{"s":7,"k":7,"q":0.442},{"s":7,"k":8,"q":0.547},{"s":7,"k":9,"q":0.639},{"s":7,"k":10,"q":0.721},{"s":7,"k":11,"q":0.768},{"s":7,"k":12,"q":0.79},{"s":7,"k":13,"q":0.795},{"s":7,"k":14,"q":0.795},{"s":7,"k":15,"q":0.832},{"s":7,"k":16,"q":0.879},{"s":7,"k":17,"q":0.923},{"s":7,"k":18,"q":0.933},{"s":7,"k":20,"q":0.929},{"s":7,"k":23,"q":0.926},{"s":7,"k":26,"q":0.936},{"s":7,"k":30,"q":0.934},{"s":7,"k":34,"q":0.943},{"s":7,"k":38,"q":0.937},{"s":7,"k":43,"q":0.95},{"s":7,"k":48,"q":0.948},{"s":7,"k":54,"q":0.943},{"s":7,"k":60,"q":0.912},{"s":7,"k":68,"q":0.948},{"s":7,"k":76,"q":0.964},{"s":7,"k":85,"q":0.978},{"s":7,"k":95,"q":0.967},{"s":7,"k":107,"q":0.979},{"s":7,"k":120,"q":0.967},{"s":7,"k":135,"q":0.976},{"s":7,"k":150,"q":0.988},{"s":7,"k":170,"q":0.973},{"s":7,"k":190,"q":0.983},{"s":7,"k":215,"q":0.968},{"s":7,"k":240,"q":0.99},{"s":7,"k":270,"q":0.915},{"s":7,"k":300,"q":0.971},{"s":7,"k":340,"q":0.985},{"s":7,"k":380,"q":0.976},{"s":7,"k":430,"q":0.978},{"s":7,"k":480,"q":0.968},{"s":7,"k":540,"q":0.988},{"s":7,"k":600,"q":0.983},{"s":7,"k":680,"q":0.973},{"s":7,"k":760,"q":0.99},{"s":7,"k":850,"q":0.971},{"s":7,"k":950,"q":0.98},{"s":7,"k":1000,"q":0.985},
{"s":8,"k":1,"q":0},{"s":8,"k":2,"q":0.003},{"s":8,"k":3,"q":0.044},{"s":8,"k":4,"q":0.099},{"s":8,"k":5,"q":0.162},{"s":8,"k":6,"q":0.26},{"s":8,"k":7,"q":0.379},{"s":8,"k":8,"q":0.486},{"s":8,"k":9,"q":0.577},{"s":8,"k":10,"q":0.66},{"s":8,"k":11,"q":0.725},{"s":8,"k":12,"q":0.764},{"s":8,"k":13,"q":0.779},{"s":8,"k":14,"q":0.782},{"s":8,"k":15,"q":0.782},{"s":8,"k":16,"q":0.834},{"s":8,"k":17,"q":0.882},{"s":8,"k":18,"q":0.928},{"s":8,"k":20,"q":0.933},{"s":8,"k":23,"q":0.93},{"s":8,"k":26,"q":0.94},{"s":8,"k":30,"q":0.939},{"s":8,"k":34,"q":0.939},{"s":8,"k":38,"q":0.946},{"s":8,"k":43,"q":0.942},{"s":8,"k":48,"q":0.948},{"s":8,"k":54,"q":0.96},{"s":8,"k":60,"q":0.954},{"s":8,"k":68,"q":0.966},{"s":8,"k":76,"q":0.96},{"s":8,"k":85,"q":0.921},{"s":8,"k":95,"q":0.979},{"s":8,"k":107,"q":0.971},{"s":8,"k":120,"q":0.981},{"s":8,"k":135,"q":0.972},{"s":8,"k":150,"q":0.99},{"s":8,"k":170,"q":0.983},{"s":8,"k":190,"q":0.976},{"s":8,"k":215,"q":0.986},{"s":8,"k":240,"q":0.979},{"s":8,"k":270,"q":0.981},{"s":8,"k":300,"q":0.974},{"s":8,"k":340,"q":0.919},{"s":8,"k":380,"q":0.985},{"s":8,"k":430,"q":0.977},{"s":8,"k":480,"q":0.99},{"s":8,"k":540,"q":0.976},{"s":8,"k":600,"q":0.983},{"s":8,"k":680,"q":0.986},{"s":8,"k":760,"q":0.979},{"s":8,"k":850,"q":0.988},{"s":8,"k":950,"q":0.981},{"s":8,"k":1000,"q":0.974},
{"s":9,"k":1,"q":0},{"s":9,"k":2,"q":0},{"s":9,"k":3,"q":0.033},{"s":9,"k":4,"q":0.084},{"s":9,"k":5,"q":0.136},{"s":9,"k":6,"q":0.216},{"s":9,"k":7,"q":0.315},{"s":9,"k":8,"q":0.424},{"s":9,"k":9,"q":0.515},{"s":9,"k":10,"q":0.595},{"s":9,"k":11,"q":0.669},{"s":9,"k":12,"q":0.725},{"s":9,"k":13,"q":0.756},{"s":9,"k":14,"q":0.767},{"s":9,"k":15,"q":0.77},{"s":9,"k":16,"q":0.782},{"s":9,"k":17,"q":0.834},{"s":9,"k":18,"q":0.884},{"s":9,"k":19,"q":0.93},{"s":9,"k":20,"q":0.931},{"s":9,"k":23,"q":0.936},{"s":9,"k":26,"q":0.935},{"s":9,"k":30,"q":0.94},{"s":9,"k":34,"q":0.945},{"s":9,"k":38,"q":0.943},{"s":9,"k":43,"q":0.949},{"s":9,"k":48,"q":0.945},{"s":9,"k":54,"q":0.954},{"s":9,"k":60,"q":0.964},{"s":9,"k":68,"q":0.962},{"s":9,"k":76,"q":0.97},{"s":9,"k":85,"q":0.967},{"s":9,"k":95,"q":0.981},{"s":9,"k":107,"q":0.979},{"s":9,"k":120,"q":0.938},{"s":9,"k":135,"q":0.99},{"s":9,"k":150,"q":0.987},{"s":9,"k":170,"q":0.988},{"s":9,"k":190,"q":0.983},{"s":9,"k":215,"q":0.993},{"s":9,"k":240,"q":0.99},{"s":9,"k":270,"q":0.986},{"s":9,"k":300,"q":0.994},{"s":9,"k":340,"q":0.984},{"s":9,"k":380,"q":0.989},{"s":9,"k":430,"q":0.992},{"s":9,"k":480,"q":0.987},{"s":9,"k":540,"q":0.993},{"s":9,"k":600,"q":0.988},{"s":9,"k":680,"q":0.983},{"s":9,"k":760,"q":0.99},{"s":9,"k":850,"q":0.986},{"s":9,"k":950,"q":0.992},{"s":9,"k":1000,"q":0.984}
]
},
"bounds": "flush",
"spacing": 22,
"resolve": {"scale": {"color": "independent"}, "legend": {"color": "independent"}},
"hconcat": [
{
 "width": 232, "height": 214, "title": "Model (N)", "data": {"name": "model"},
 "layer": [
  {"mark": {"type": "line", "strokeWidth": 1.3},
   "encoding": {
    "x": {"field": "k", "type": "quantitative", "scale": {"type": "log", "domain": [1, 1000]}, "axis": {"orient": "bottom", "values": [1,2,3,4,5,6,7,8,9,10,20,30,40,50,60,70,80,90,100,200,300,400,500,600,700,800,900,1000], "labelExpr": "datum.value == 1 ? '10⁰' : datum.value == 10 ? '10¹' : datum.value == 100 ? '10²' : datum.value == 1000 ? '10³' : ''", "labelOverlap": false, "labelFlush": false, "labelBound": false, "tickSize": {"condition": {"test": "indexof([1,10,100,1000], datum.value) >= 0", "value": -4}, "value": -2}, "labelPadding": 2, "gridColor": {"condition": {"test": "indexof([1,10,100,1000], datum.value) >= 0", "value": "#d6d6d6"}, "value": "#ececec"}, "title": "Pattern Rank k (Log Scale)", "titlePadding": 2}},
    "y": {"field": "q", "type": "quantitative", "scale": {"domain": [-0.05, 1.1], "nice": false, "zero": false}, "axis": {"orient": "left", "values": [0, 0.2, 0.4, 0.6, 0.8, 1.0], "format": ".1f", "tickSize": -4, "labelPadding": 3, "title": "Residual qₖ", "titlePadding": 3}},
    "color": {"field": "s", "type": "ordinal", "scale": {"domain": [0,1,2,3,4,5,6,7,8,9], "range": ["#b6d4e9","#a2cce2","#88bedc","#6eb0d7","#59a1cf","#4493c7","#3383be","#2272b5","#1561a9","#08519c"]}, "legend": {"title": "Parameters", "labelExpr": "['N = 10³·⁰⁰','N = 10³·²²','N = 10³·⁴⁴','N = 10³·⁶⁷','N = 10³·⁸⁹','N = 10⁴·¹¹','N = 10⁴·³³','N = 10⁴·⁵⁶','N = 10⁴·⁷⁸','N = 10⁵·⁰⁰'][datum.value]"}}
   }},
  {"mark": {"type": "line", "opacity": 0},
   "encoding": {
    "x": {"field": "k", "type": "quantitative", "scale": {"type": "log", "domain": [1, 1000]}, "axis": {"orient": "top", "values": [1,2,3,4,5,6,7,8,9,10,20,30,40,50,60,70,80,90,100,200,300,400,500,600,700,800,900,1000], "labels": false, "grid": false, "title": null, "tickSize": {"condition": {"test": "indexof([1,10,100,1000], datum.value) >= 0", "value": -4}, "value": -2}}},
    "y": {"field": "q", "type": "quantitative", "scale": {"domain": [-0.05, 1.1], "nice": false, "zero": false}, "axis": {"orient": "right", "values": [0, 0.2, 0.4, 0.6, 0.8, 1.0], "labels": false, "grid": false, "title": null, "tickSize": -4}}
   }}
 ],
 "resolve": {"axis": {"x": "independent", "y": "independent"}}
},
{
 "width": 232, "height": 214, "title": "Data (D)", "data": {"name": "data"},
 "layer": [
  {"mark": {"type": "line", "strokeWidth": 1.3},
   "encoding": {
    "x": {"field": "k", "type": "quantitative", "scale": {"type": "log", "domain": [1, 1000]}, "axis": {"orient": "bottom", "values": [1,2,3,4,5,6,7,8,9,10,20,30,40,50,60,70,80,90,100,200,300,400,500,600,700,800,900,1000], "labelExpr": "datum.value == 1 ? '10⁰' : datum.value == 10 ? '10¹' : datum.value == 100 ? '10²' : datum.value == 1000 ? '10³' : ''", "labelOverlap": false, "labelFlush": false, "labelBound": false, "tickSize": {"condition": {"test": "indexof([1,10,100,1000], datum.value) >= 0", "value": -4}, "value": -2}, "labelPadding": 2, "gridColor": {"condition": {"test": "indexof([1,10,100,1000], datum.value) >= 0", "value": "#d6d6d6"}, "value": "#ececec"}, "title": "Pattern Rank k (Log Scale)", "titlePadding": 2}},
    "y": {"field": "q", "type": "quantitative", "scale": {"domain": [-0.05, 1.1], "nice": false, "zero": false}, "axis": {"orient": "left", "values": [0, 0.2, 0.4, 0.6, 0.8, 1.0], "labels": false, "tickSize": -4, "title": null}},
    "color": {"field": "s", "type": "ordinal", "scale": {"domain": [0,1,2,3,4,5,6,7,8,9], "range": ["#b8e3b1","#a4da9e","#8ed08b","#77c578","#5db96b","#43ac5e","#339c52","#248c46","#127c39","#006d2c"]}, "legend": {"title": "Tokens", "labelExpr": "['D = 10⁴·⁰⁰','D = 10⁴·²²','D = 10⁴·⁴⁴','D = 10⁴·⁶⁷','D = 10⁴·⁸⁹','D = 10⁵·¹¹','D = 10⁵·³³','D = 10⁵·⁵⁶','D = 10⁵·⁷⁸','D = 10⁶·⁰⁰'][datum.value]"}}
   }},
  {"mark": {"type": "line", "opacity": 0},
   "encoding": {
    "x": {"field": "k", "type": "quantitative", "scale": {"type": "log", "domain": [1, 1000]}, "axis": {"orient": "top", "values": [1,2,3,4,5,6,7,8,9,10,20,30,40,50,60,70,80,90,100,200,300,400,500,600,700,800,900,1000], "labels": false, "grid": false, "title": null, "tickSize": {"condition": {"test": "indexof([1,10,100,1000], datum.value) >= 0", "value": -4}, "value": -2}}},
    "y": {"field": "q", "type": "quantitative", "scale": {"domain": [-0.05, 1.1], "nice": false, "zero": false}, "axis": {"orient": "right", "values": [0, 0.2, 0.4, 0.6, 0.8, 1.0], "labels": false, "grid": false, "title": null, "tickSize": -4}}
   }}
 ],
 "resolve": {"axis": {"x": "independent", "y": "independent"}}
},
{
 "width": 233, "height": 214, "title": "Compute (C)", "data": {"name": "compute"},
 "layer": [
  {"mark": {"type": "line", "strokeWidth": 1.3},
   "encoding": {
    "x": {"field": "k", "type": "quantitative", "scale": {"type": "log", "domain": [1, 1000]}, "axis": {"orient": "bottom", "values": [1,2,3,4,5,6,7,8,9,10,20,30,40,50,60,70,80,90,100,200,300,400,500,600,700,800,900,1000], "labelExpr": "datum.value == 1 ? '10⁰' : datum.value == 10 ? '10¹' : datum.value == 100 ? '10²' : datum.value == 1000 ? '10³' : ''", "labelOverlap": false, "labelFlush": false, "labelBound": false, "tickSize": {"condition": {"test": "indexof([1,10,100,1000], datum.value) >= 0", "value": -4}, "value": -2}, "labelPadding": 2, "gridColor": {"condition": {"test": "indexof([1,10,100,1000], datum.value) >= 0", "value": "#d6d6d6"}, "value": "#ececec"}, "title": "Pattern Rank k (Log Scale)", "titlePadding": 2}},
    "y": {"field": "q", "type": "quantitative", "scale": {"domain": [-0.05, 1.1], "nice": false, "zero": false}, "axis": {"orient": "left", "values": [0, 0.2, 0.4, 0.6, 0.8, 1.0], "labels": false, "tickSize": -4, "title": null}},
    "color": {"field": "s", "type": "ordinal", "scale": {"domain": [0,1,2,3,4,5,6,7,8,9], "range": ["#fdc28c","#fdb170","#fda057","#fd8f3f","#f87d2a","#f26b15","#e65a0b","#da4901","#c03f02","#a63603"]}, "legend": {"title": "Steps", "labelExpr": "['τ = 10⁴·⁰⁰','τ = 10⁴·¹¹','τ = 10⁴·²²','τ = 10⁴·³³','τ = 10⁴·⁴⁴','τ = 10⁴·⁵⁶','τ = 10⁴·⁶⁷','τ = 10⁴·⁷⁸','τ = 10⁴·⁸⁹','τ = 10⁵·⁰⁰'][datum.value]"}}
   }},
  {"mark": {"type": "line", "opacity": 0},
   "encoding": {
    "x": {"field": "k", "type": "quantitative", "scale": {"type": "log", "domain": [1, 1000]}, "axis": {"orient": "top", "values": [1,2,3,4,5,6,7,8,9,10,20,30,40,50,60,70,80,90,100,200,300,400,500,600,700,800,900,1000], "labels": false, "grid": false, "title": null, "tickSize": {"condition": {"test": "indexof([1,10,100,1000], datum.value) >= 0", "value": -4}, "value": -2}}},
    "y": {"field": "q", "type": "quantitative", "scale": {"domain": [-0.05, 1.1], "nice": false, "zero": false}, "axis": {"orient": "right", "values": [0, 0.2, 0.4, 0.6, 0.8, 1.0], "labels": false, "grid": false, "title": null, "tickSize": -4}}
   }}
 ],
 "resolve": {"axis": {"x": "independent", "y": "independent"}}
}
]
}
